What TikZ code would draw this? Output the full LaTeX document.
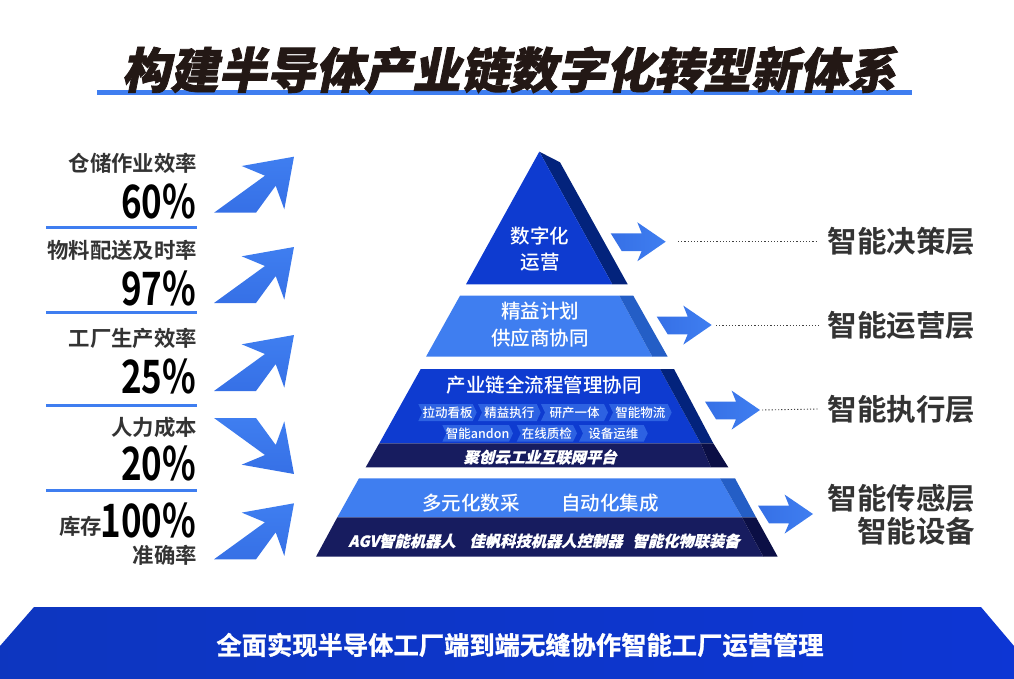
\documentclass[tikz,border=0pt]{standalone}
\usepackage{fontspec}
\newfontfamily\cjkmed{Noto Sans CJK SC Medium}
\newfontfamily\cjkbold{Noto Sans CJK SC Bold}
\newfontfamily\bandfont[FakeBold=1]{Noto Sans CJK SC Bold}
\newfontfamily\titlefont[FakeSlant=0.2,FakeBold=1.5]{Noto Sans CJK SC Black}
\newfontfamily\slantfont[FakeSlant=0.25,FakeBold=.6]{Noto Sans CJK SC Black}
\newfontfamily\numfont[FakeStretch=0.76]{Noto Sans CJK SC Bold}
\definecolor{deepblue}{HTML}{0E3BD0}
\definecolor{midblue}{HTML}{3F7EF0}
\definecolor{lowblue}{HTML}{3670E6}
\definecolor{navy}{HTML}{171C5F}
\definecolor{darkside}{HTML}{03237C}
\definecolor{midside}{HTML}{245EC6}
\definecolor{navyside}{HTML}{0B0F45}
\definecolor{chipblue}{HTML}{2D62E2}
\definecolor{labelgray}{HTML}{333333}
\definecolor{titleink}{HTML}{231815}
\tikzset{
  plate/.style={inner sep=0pt,outer sep=0pt},
  wt/.style={plate,text=white,font=\cjkmed\fontsize{19.5}{19.5}\selectfont},
  chiptext/.style={plate,text=white,font=\cjkmed\fontsize{12.5}{12.5}\selectfont},
  slanttext/.style={plate,text=white,font=\slantfont\fontsize{15.3}{15.3}\selectfont},
  kpi/.style={plate,anchor=east,text=labelgray,font=\cjkbold\fontsize{21.4}{21.4}\selectfont},
  kpinum/.style={plate,anchor=east,text=black,font=\numfont\fontsize{46}{46}\selectfont},
  layer/.style={plate,anchor=east,text=labelgray,font=\cjkbold\fontsize{29.5}{29.5}\selectfont},
  leader/.style={line width=.9pt,dash pattern=on 1.2pt off 2pt,black!75},
  rulebar/.style={line width=3pt,midblue}
}
\begin{document}
\begin{tikzpicture}[x=1pt,y=-1pt]
\useasboundingbox (0,0) rectangle (1014,679);
% title
\draw[line width=5pt,midblue](97,93)--(912,93);
\node[plate,text=titleink] (title) at (509,70){\titlefont\fontsize{48.4}{48.4}\selectfont 构建半导体产业链数字化转型新体系};
% left column
\node[kpi] (kpia) at (197,163){仓储作业效率};
\node[kpinum] (numa) at (196,201){60\%};
\draw[rulebar](46,227.7)--(197,227.7);
\node[kpi] (kpib) at (197,250){物料配送及时率};
\node[kpinum] (numb) at (196,288){97\%};
\draw[rulebar](46,312.3)--(197,312.3);
\node[kpi] (kpic) at (197,338){工厂生产效率};
\node[kpinum] (numc) at (196,376){25\%};
\draw[rulebar](46,405.3)--(197,405.3);
\node[kpi] (kpid) at (197,427){人力成本};
\node[kpinum] (numd) at (196,463){20\%};
\draw[rulebar](46,490.7)--(197,490.7);
\node[kpi] (kpie) at (102,526){库存};
\node[kpinum] (nume) at (196,520){100\%};
\node[kpi] (kpif) at (197,555){准确率};
% slanted arrows
\foreach \tx/\ty/\fy in {294/156.7/1,294/247/1,294/335/1,294/474/-1,294/503.3/1}{
  \shade[bottom color=lowblue,top color=midblue,shading angle=0,yshift=\ty pt*-1,xshift=\tx pt,yscale=\fy]
    (0,0)--(-52.3,9.3)--(-29,19)--(-80,56)--(-38,56)--(-18.3,29)--(-9.7,52.6)--cycle;
}
% pyramid, top to bottom
\fill[darkside](539.3,151.7)--(560,162.3)--(627.7,284.3)--(612.3,284.3)--cycle;
\fill[deepblue](539.3,151.7)--(466,284.3)--(612.3,284.3)--cycle;
\node[wt] (topa) at (540,236){数字化};
\node[wt] (topb) at (540,262){运营};
\fill[midblue](460,295.7)--(619.3,295.7)--(652.3,356.7)--(426,356.7)--cycle;
\fill[midside](619.3,295.7)--(633.3,295.7)--(667.7,356.7)--(652.3,356.7)--cycle;
\node[wt] (plana) at (540,311){精益计划};
\node[wt] (planb) at (540,338){供应商协同};
\fill[deepblue](420.7,369)--(660,369)--(700.7,443.3)--(379.3,443.3)--cycle;
\fill[darkside](660,369)--(674,369)--(713.3,443.3)--(700.7,443.3)--cycle;
\fill[navy](379.3,443.3)--(700.7,443.3)--(711,467.3)--(365.7,467.3)--cycle;
\fill[navyside](700.7,443.3)--(713.3,443.3)--(728.3,467.3)--(711,467.3)--cycle;
\node[wt] (flow) at (544,385){产业链全流程管理协同};
% chips
\foreach \xa/\xb/\ya/\yb/\lab in {418.3/476.7/404/421/拉动看板,478/540.7/404/421/精益执行,541/608/404/421/研产一体,609/671.7/404/421/智能物流,442.3/513/425/441.7/智能andon,516.7/577/425/441.7/在线质检,579/647.7/425/441.7/设备运维}{
  \fill[chipblue](\xa,\ya)--(\xb-4,\ya)--(\xb,{(\ya+\yb)/2})--(\xb-4,\yb)--(\xa,\yb)--({\xa+4},{(\ya+\yb)/2})--cycle;
  \node[chiptext] (chip\xa) at ({(\xa+\xb)/2},{(\ya+\yb)/2}){\lab};
}
\node[slanttext] (cloud) at (540,457){聚创云工业互联网平台};
\fill[midblue](359,478.3)--(720,478.3)--(742,517.3)--(337.3,517.3)--cycle;
\fill[midside](720,478.3)--(735,478.3)--(756,517.3)--(742,517.3)--cycle;
\fill[navy](337.3,517.3)--(742,517.3)--(763.3,556.7)--(316,556.7)--cycle;
\fill[navyside](742,517.3)--(756,517.3)--(777.7,556.7)--(763.3,556.7)--cycle;
\node[wt] (dataa) at (471,503){多元化数采};
\node[wt] (datab) at (610,503){自动化集成};
\node[slanttext] (agv) at (402,541){AGV智能机器人};
\node[slanttext] (robot) at (546,541){佳帆科技机器人控制器};
\node[slanttext] (equip) at (686,541){智能化物联装备};
% right arrows
\foreach \tx/\ty in {665.7/241.7,711.7/325,760/410,813/514}{
  \shade[left color=lowblue,right color=midblue,xshift=\tx pt,yshift=\ty pt*-1]
    (-55,-8.4)--(-24,-8.4)--(-28.4,-19.4)--(0,0)--(-28.4,19.6)--(-24,9.3)--(-44,9.3)--cycle;
}
% right labels
\node[layer] (laya) at (975,241){智能决策层};
\node[layer] (layb) at (975,325){智能运营层};
\node[layer] (layc) at (975,409){智能执行层};
\node[layer] (layd) at (975,498){智能传感层};
\node[layer] (laye) at (975,531){智能设备};
\coordinate (doa) at (678,241);
\coordinate (dob) at (716,325);
\coordinate (doc) at (762,410);
\draw[leader](doa)--([xshift=-9pt]laya.west);
\draw[leader](dob)--([xshift=-9pt]layb.west);
\draw[leader](doc)--([xshift=-9pt]layc.west);
% bottom band
\shade[left color=deepblue!92!black,right color=deepblue!92!blue](0,646)--(34,607)--(981,607)--(1014,646)--(1014,679)--(0,679)--cycle;
\node[plate,text=white] (band) at (520,645){\bandfont\fontsize{25.3}{25.3}\selectfont 全面实现半导体工厂端到端无缝协作智能工厂运营管理};
\end{tikzpicture}
\end{document}
